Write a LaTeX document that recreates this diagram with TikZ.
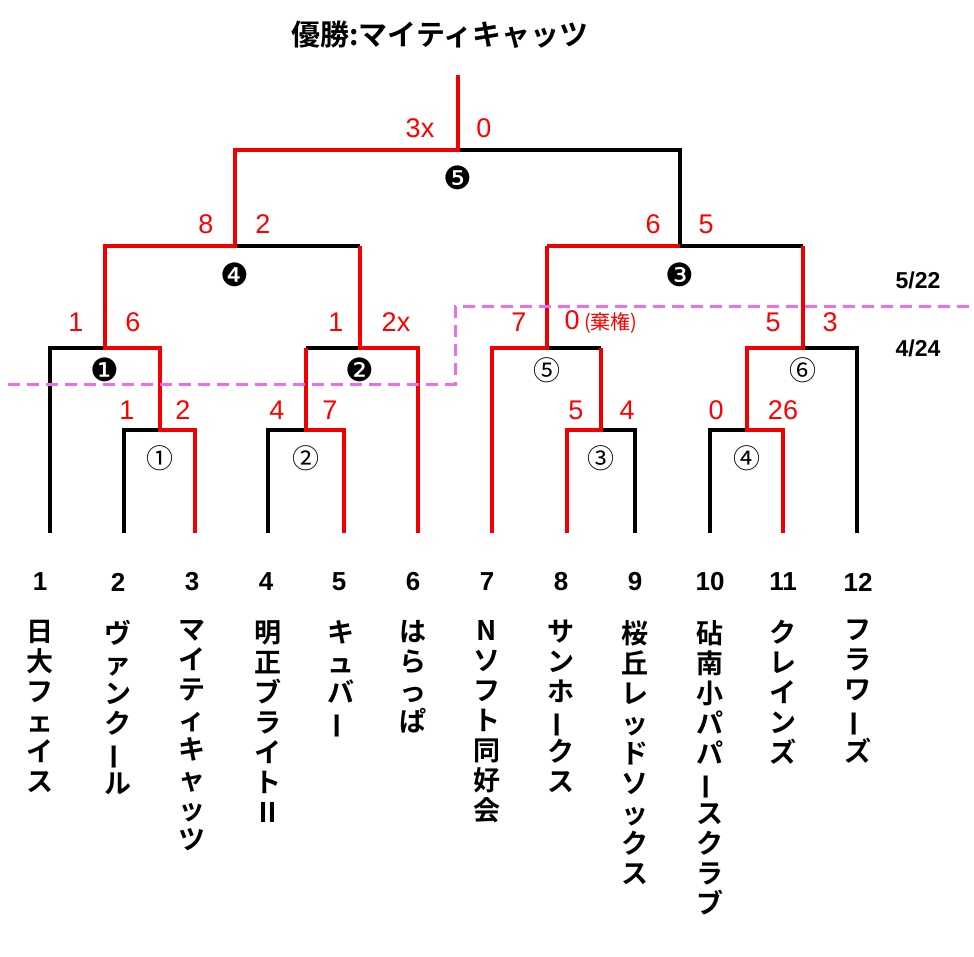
\documentclass[tikz,border=0pt]{standalone}
\usepackage{fontspec}
\newfontfamily\cjk{Noto Sans CJK JP}[BoldFont={* Bold}]
\newfontfamily\dv{DejaVu Sans}
\newfontfamily\ar{Liberation Sans}
\definecolor{dashc}{RGB}{236,110,236}
\begin{document}
\begin{tikzpicture}[x=1pt,y=-1pt,
  bk/.style={line width=3.5pt,black,line join=miter},
  rd/.style={line width=3.5pt,red!95!black,line join=miter},
  sc/.style={text=red,font=\ar\fontsize{27}{29}\selectfont},
  mk/.style={font=\dv\fontsize{32}{34}\selectfont},
  mc/.style={font=\cjk\fontsize{27}{29}\selectfont},
  num/.style={font=\ar\bfseries\fontsize{26}{28}\selectfont},
  nm/.style={anchor=north,align=center,font=\cjk\bfseries\fontsize{27}{30}\selectfont,inner sep=0pt}]
\useasboundingbox (0,0) rectangle (974,957);
\newcommand\vb{\rotatebox[origin=c]{90}{ー}}
% black lines
\draw[bk] (50,533)--(50,348)--(105,348);
\draw[bk] (124,533)--(124,430)--(160,430);
\draw[bk] (268,533)--(268,430)--(306,430);
\draw[bk] (306,348)--(360,348);
\draw[bk] (235,246)--(360,246);
\draw[bk] (458,150)--(680,150)--(680,246)--(803,246);
\draw[bk] (547,348)--(601,348);
\draw[bk] (601,430)--(635,430)--(635,533);
\draw[bk] (710,533)--(710,430)--(747,430);
\draw[bk] (803,348)--(857,348)--(857,533);
% red lines
\draw[rd] (195,533)--(195,430)--(160,430)--(160,348)--(105,348)--(105,246)--(235,246)--(235,150)--(458,150)--(458,75);
\draw[rd] (418,533)--(418,348)--(360,348)--(360,246);
\draw[rd] (344,533)--(344,430)--(306,430)--(306,348);
\draw[rd] (680,246)--(547,246);
\draw[rd] (492,533)--(492,348)--(547,348)--(547,246);
\draw[rd] (567,533)--(567,430)--(601,430)--(601,348);
\draw[rd] (783,533)--(783,430)--(747,430)--(747,348)--(803,348)--(803,246);
% dashed
\draw[dashc,line width=3pt,dash pattern=on 12pt off 7pt] (8,384)--(455,384)--(455,307)--(974,307);
\node[num,font=\ar\bfseries\fontsize{23}{25}\selectfont] (d1) at (918,280) {5/22};
\node[num,font=\ar\bfseries\fontsize{23}{25}\selectfont] (d2) at (918,348) {4/24};
% title
\node[font=\cjk\bfseries\fontsize{29}{32}\selectfont] (ti) at (440,35) {優勝:マイティキャッツ};
% marks
\node[mk] (m1) at (105,370) {❶};
\node[mk] (m2) at (360,370) {❷};
\node[mk] (m3) at (680,275) {❸};
\node[mk] (m4) at (235,275) {❹};
\node[mk] (m5) at (458,178) {❺};
\node[mc] (c1) at (160,458) {①};
\node[mc] (c2) at (306,458) {②};
\node[mc] (c3) at (601,458) {③};
\node[mc] (c4) at (747,458) {④};
\node[mc] (c5) at (547,370) {⑤};
\node[mc] (c6) at (803,370) {⑥};
% scores
\node[sc] (s1) at (420,128) {3x};
\node[sc] (s2) at (484,128) {0};
\node[sc] (s3) at (206,224) {8};
\node[sc] (s4) at (263,224) {2};
\node[sc] (s5) at (653,224) {6};
\node[sc] (s6) at (706,224) {5};
\node[sc] (s7) at (76,322) {1};
\node[sc] (s8) at (133,322) {6};
\node[sc] (s9) at (336,322) {1};
\node[sc] (s10) at (396,322) {2x};
\node[sc] (s11) at (519,322) {7};
\node[sc,anchor=west] (s12) at (561,322) {0\,\cjk\fontsize{20}{22}\selectfont(棄権)};
\node[sc] (s13) at (773,322) {5};
\node[sc] (s14) at (830,322) {3};
\node[sc] (s15) at (127,410) {1};
\node[sc] (s16) at (183,410) {2};
\node[sc] (s17) at (277,410) {4};
\node[sc] (s18) at (330,410) {7};
\node[sc] (s19) at (576,410) {5};
\node[sc] (s20) at (627,410) {4};
\node[sc] (s21) at (716,410) {0};
\node[sc] (s22) at (783,410) {26};
% team numbers
\foreach \x/\n [count=\i] in {40/1,118/2,192/3,266/4,339/5,413/6,487/7,561/8,635/9,710/10,783/11,858/12}
  \node[num] (n\i) at (\x,582) {\n};
% names
\node[nm] (a1) at (40,620) {日\\大\\フ\\ェ\\イ\\ス};
\node[nm] (a2) at (118,620) {ヴ\\ァ\\ン\\ク\\\vb\\ル};
\node[nm] (a3) at (192,620) {マ\\イ\\テ\\ィ\\キ\\ャ\\ッ\\ツ};
\node[nm] (a4) at (268,620) {明\\正\\ブ\\ラ\\イ\\ト\\Ⅱ};
\node[nm] (a5) at (341,620) {キ\\ュ\\バ\\\vb};
\node[nm] (a6) at (413,620) {は\\ら\\っ\\ぱ};
\node[nm] (a7) at (487,620) {N\\ソ\\フ\\ト\\同\\好\\会};
\node[nm] (a8) at (561,620) {サ\\ン\\ホ\\\vb\\ク\\ス};
\node[nm] (a9) at (635,620) {桜\\丘\\レ\\ッ\\ド\\ソ\\ッ\\ク\\ス};
\node[nm] (a10) at (710,620) {砧\\南\\小\\パ\\パ\\\vb\\ス\\ク\\ラ\\ブ};
\node[nm] (a11) at (783,620) {ク\\レ\\イ\\ン\\ズ};
\node[nm] (a12) at (858,620) {フ\\ラ\\ワ\\\vb\\ズ};
\end{tikzpicture}
\end{document}
